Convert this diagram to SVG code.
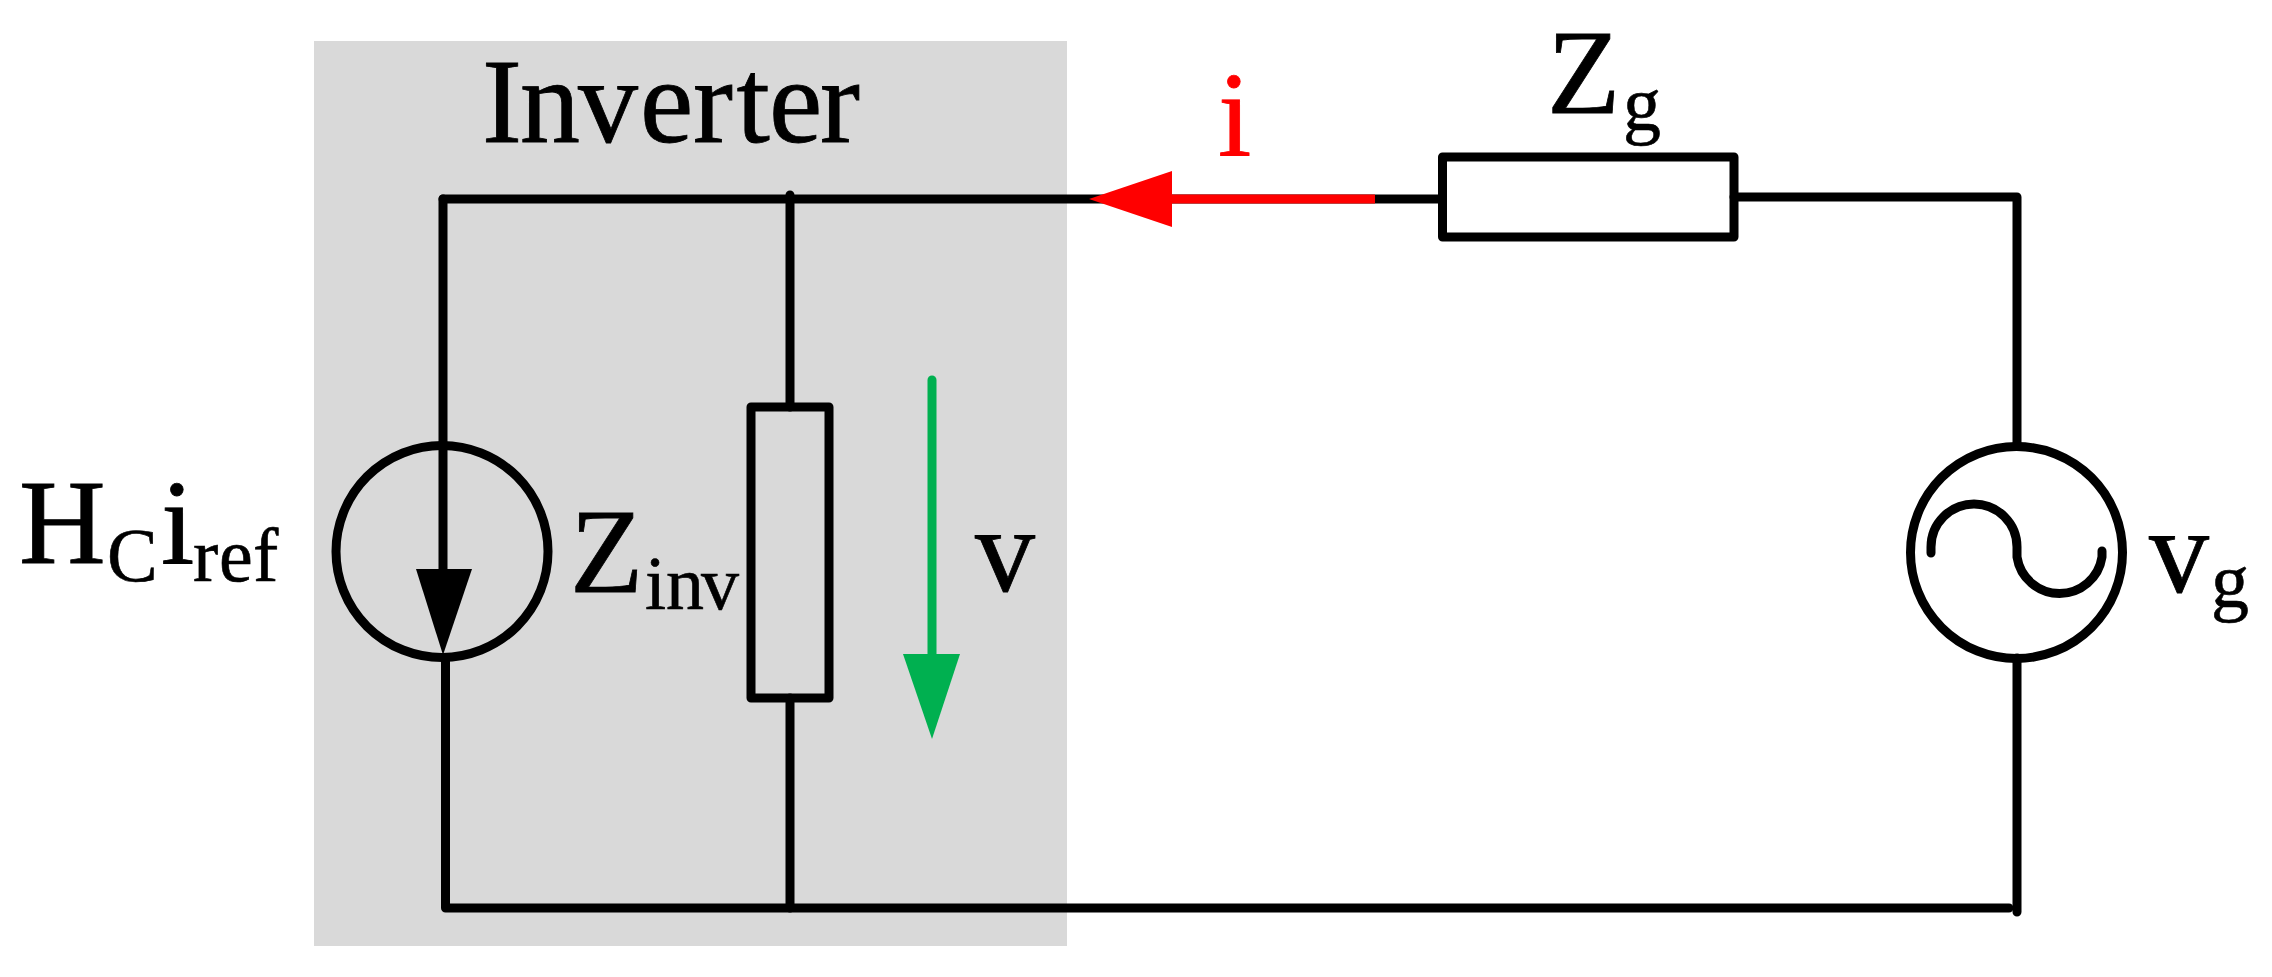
<svg xmlns="http://www.w3.org/2000/svg" width="2272" height="977" viewBox="0 0 2272 977">
<style>
.w{fill:none;stroke:#000;stroke-width:9;stroke-linecap:round;stroke-linejoin:round}
.b{font-family:"Liberation Serif","Times New Roman",serif;font-size:120px;fill:#000;stroke:#000;stroke-width:.8}
.s{font-family:"Liberation Serif","Times New Roman",serif;font-size:76px;fill:#000;stroke:#000;stroke-width:.6}
</style>
<rect width="2272" height="977" fill="#fff"/>
<rect id="inverter-box" x="314" y="41" width="753" height="905" fill="#d9d9d9"/>
<g id="connectors">
<path class="w" d="M443 199H1439"/>
<path class="w" d="M790 195V407M790 698V908"/>
<path class="w" d="M443 199V600"/>
<path class="w" d="M445.500 658V908H2009"/>
<path class="w" d="M1734 197H2017V445M2017 658V912"/>
<path fill="none" stroke="#f00" stroke-width="9" d="M1150 199H1375"/>
<path fill="#f00" d="M1089 199L1172 171V227Z"/>
<path fill="none" stroke="#00b050" stroke-width="9" stroke-linecap="round" d="M932 380V660"/>
<path fill="#00b050" d="M903 654H960L932 739Z"/>
</g>
<g id="current-source">
<circle class="w" cx="442" cy="551.500" r="106"/>
<path fill="#000" d="M416 569H472L443 655Z"/>
<text class="b" x="19" y="563">H</text><text class="s" x="107" y="581">C</text><text class="b" x="161" y="563">i</text><text class="s" x="193" y="581" xml:space="preserve">r<tspan x="219">e</tspan><tspan x="253">f</tspan></text>
</g>
<g id="z-inv">
<rect class="w" x="751" y="407" width="78" height="291"/>
<text class="b" x="570" y="592">Z</text><text class="s" x="645" y="609">i<tspan x="666">n</tspan><tspan x="701">v</tspan></text>
</g>
<g id="z-g">
<rect class="w" x="1442.500" y="157" width="291.500" height="80"/>
<text class="b" x="1547" y="113">Z</text><text class="s" x="1623" y="130">g</text>
</g>
<g id="voltage-source">
<circle class="w" cx="2016.500" cy="552.500" r="106"/>
<path class="w" d="M1931 553V547A43 43 0 0 1 2017 547V557A43 43 0 0 0 2102 557V551"/>
<text class="b" x="2149" y="592">v</text><text class="s" x="2211" y="607">g</text>
</g>
<g id="labels">
<text class="b" x="482" y="142" id="inverter-label">I<tspan x="520">n</tspan><tspan x="578">v</tspan><tspan x="640">e</tspan><tspan x="693">r</tspan><tspan x="736.500">t</tspan><tspan x="769">e</tspan><tspan x="820">r</tspan></text>
<text class="b" x="1218" y="155" style="fill:#f00;stroke:#f00">i</text>
<text class="b" x="975" y="591">v</text>
</g>
</svg>
